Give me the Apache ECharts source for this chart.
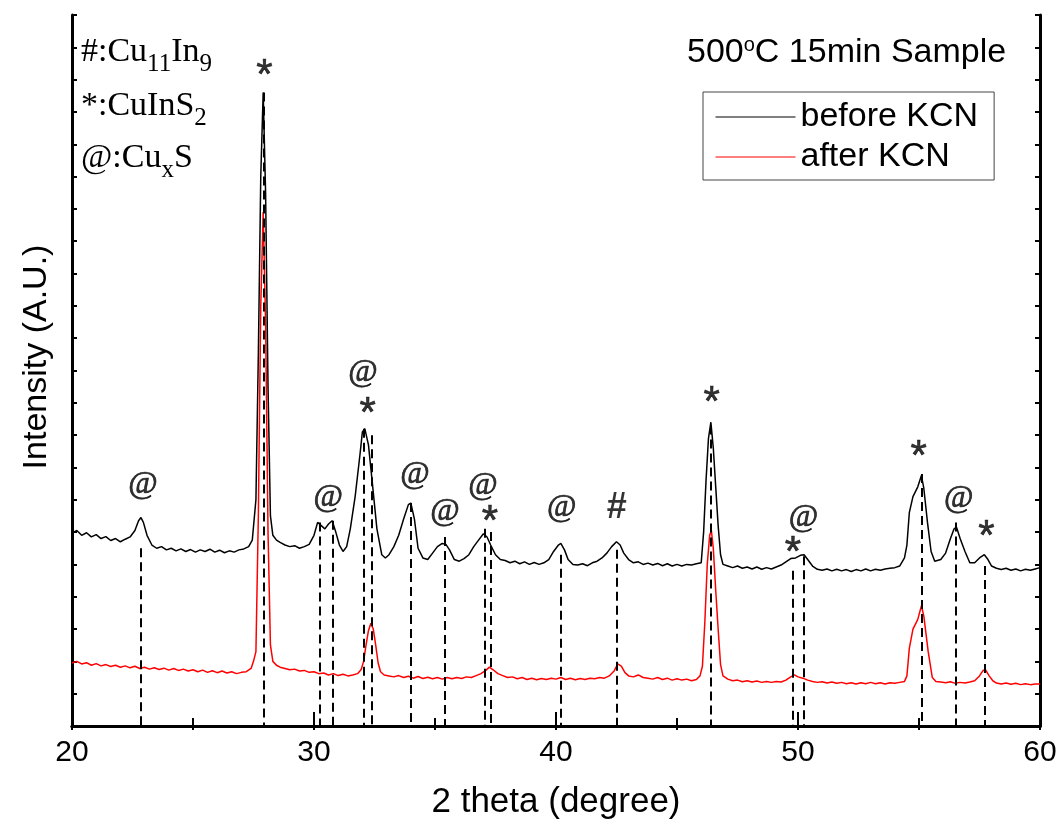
<!DOCTYPE html>
<html>
<head>
<meta charset="utf-8">
<script src="https://cdn.jsdelivr.net/npm/echarts@6/dist/echarts.min.js"></script>
<style>
html,body{margin:0;padding:0;background:#fff;}
#chart{width:1060px;height:827px;}
</style>
</head>
<body>
<div id="chart"></div>
<script>
// ---------- data (2 theta in degrees, intensity in arbitrary units) ----------
const beforeKCN = [
[20.0,5.97],[20.2,6.05],[20.4,5.90],[20.6,5.98],[20.8,5.85],[21.0,5.92],[21.2,5.80],[21.4,5.86],[21.6,5.74],[21.8,5.80],
[22.0,5.70],[22.2,5.78],[22.4,5.85],[22.6,6.05],[22.75,6.35],[22.85,6.45],[22.95,6.30],[23.1,5.90],[23.3,5.60],[23.5,5.50],
[23.7,5.55],[23.9,5.45],[24.1,5.50],[24.3,5.42],[24.5,5.48],[24.7,5.40],[24.9,5.46],[25.1,5.38],[25.3,5.45],[25.5,5.40],
[25.7,5.47],[25.9,5.38],[26.1,5.44],[26.3,5.36],[26.5,5.42],[26.7,5.38],[26.9,5.45],[27.1,5.48],[27.3,5.55],[27.45,5.75],
[27.6,7.0],[27.7,11.5],[27.8,17.0],[27.9,19.6],[28.0,16.5],[28.1,10.5],[28.2,6.5],[28.3,5.9],[28.45,5.75],[28.6,5.68],
[28.8,5.60],[29.0,5.55],[29.2,5.58],[29.4,5.50],[29.6,5.55],[29.8,5.62],[30.0,5.90],[30.15,6.30],[30.3,6.20],[30.45,6.10],
[30.6,6.25],[30.75,6.35],[30.9,6.00],[31.05,5.60],[31.2,5.40],[31.35,5.55],[31.5,6.10],[31.7,7.10],[31.9,8.40],[32.0,9.10],
[32.1,9.20],[32.25,8.70],[32.4,7.60],[32.6,6.10],[32.8,5.30],[32.95,5.20],[33.1,5.30],[33.3,5.55],[33.5,5.90],[33.7,6.40],
[33.9,6.85],[34.0,6.90],[34.15,6.40],[34.3,5.50],[34.5,5.20],[34.7,5.15],[34.9,5.35],[35.1,5.55],[35.3,5.65],[35.45,5.62],
[35.6,5.45],[35.8,5.15],[36.0,5.10],[36.2,5.18],[36.4,5.30],[36.6,5.55],[36.8,5.75],[37.0,5.95],[37.15,5.85],[37.3,5.60],
[37.5,5.30],[37.7,5.15],[37.9,5.12],[38.1,5.05],[38.3,5.10],[38.5,5.02],[38.7,5.08],[38.9,5.00],[39.1,5.06],[39.3,5.00],
[39.5,5.05],[39.7,5.15],[39.9,5.40],[40.1,5.60],[40.2,5.65],[40.35,5.45],[40.5,5.15],[40.7,5.00],[40.9,4.98],[41.1,5.02],
[41.3,4.96],[41.5,5.05],[41.7,5.10],[41.9,5.20],[42.1,5.35],[42.3,5.55],[42.5,5.70],[42.65,5.60],[42.8,5.35],[43.0,5.15],
[43.2,5.05],[43.4,5.08],[43.6,5.00],[43.8,5.04],[44.0,4.98],[44.2,5.03],[44.4,4.96],[44.6,5.02],[44.8,4.95],[45.0,5.00],
[45.2,4.95],[45.4,5.00],[45.6,4.98],[45.8,5.02],[46.0,5.05],[46.1,6.0],[46.2,7.6],[46.3,8.9],[46.4,9.4],[46.5,8.6],
[46.6,7.4],[46.7,6.2],[46.8,5.3],[46.9,5.00],[47.1,4.95],[47.3,4.90],[47.5,4.95],[47.7,4.88],[47.9,4.92],[48.1,4.86],
[48.3,4.92],[48.5,4.85],[48.7,4.90],[48.9,4.86],[49.1,4.92],[49.3,4.98],[49.5,5.08],[49.7,5.18],[49.9,5.20],[50.1,5.28],
[50.25,5.30],[50.4,5.15],[50.6,4.95],[50.8,4.85],[51.0,4.82],[51.2,4.86],[51.4,4.80],[51.6,4.85],[51.8,4.80],[52.0,4.84],
[52.2,4.78],[52.4,4.84],[52.6,4.80],[52.8,4.86],[53.0,4.80],[53.2,4.85],[53.4,4.82],[53.6,4.86],[53.8,4.88],[54.0,4.90],
[54.2,4.95],[54.4,5.2],[54.5,5.6],[54.6,6.6],[54.75,7.1],[54.95,7.4],[55.1,7.75],[55.2,7.35],[55.35,6.3],[55.5,5.4],
[55.65,5.1],[55.9,5.15],[56.1,5.35],[56.3,5.80],[56.45,6.10],[56.55,6.15],[56.7,5.80],[56.9,5.40],[57.1,5.05],[57.3,5.05],
[57.5,5.20],[57.7,5.30],[57.85,5.15],[58.0,4.95],[58.2,4.88],[58.4,4.84],[58.6,4.88],[58.8,4.82],[59.0,4.86],[59.2,4.80],
[59.4,4.85],[59.6,4.82],[59.8,4.86],[60.0,4.90]
];
const afterKCN = [
[20.0,1.95],[20.2,2.00],[20.4,1.92],[20.6,1.96],[20.8,1.88],[21.0,1.93],[21.2,1.86],[21.4,1.90],[21.6,1.84],[21.8,1.88],
[22.0,1.82],[22.2,1.86],[22.4,1.80],[22.6,1.85],[22.8,1.78],[23.0,1.82],[23.2,1.76],[23.4,1.80],[23.6,1.75],[23.8,1.79],
[24.0,1.73],[24.2,1.78],[24.4,1.72],[24.6,1.76],[24.8,1.70],[25.0,1.74],[25.2,1.68],[25.4,1.73],[25.6,1.66],[25.8,1.71],
[26.0,1.65],[26.2,1.70],[26.4,1.64],[26.6,1.68],[26.8,1.62],[27.0,1.66],[27.2,1.68],[27.4,1.78],[27.5,2.0],[27.6,2.3],
[27.7,6.5],[27.8,13.0],[27.9,15.9],[28.0,12.5],[28.1,6.0],[28.2,2.5],[28.3,2.0],[28.45,1.88],[28.6,1.82],[28.8,1.78],
[29.0,1.74],[29.2,1.76],[29.4,1.70],[29.6,1.72],[29.8,1.66],[30.0,1.68],[30.2,1.62],[30.4,1.64],[30.6,1.58],[30.8,1.62],
[31.0,1.56],[31.2,1.60],[31.4,1.55],[31.6,1.58],[31.8,1.62],[31.95,1.75],[32.05,2.0],[32.15,2.5],[32.25,2.95],[32.35,3.18],
[32.45,3.0],[32.55,2.5],[32.65,1.95],[32.75,1.68],[32.9,1.58],[33.1,1.55],[33.3,1.52],[33.5,1.56],[33.7,1.50],[33.9,1.54],
[34.1,1.48],[34.3,1.53],[34.5,1.47],[34.7,1.51],[34.9,1.46],[35.1,1.50],[35.3,1.45],[35.5,1.50],[35.7,1.46],[35.9,1.50],
[36.1,1.47],[36.3,1.52],[36.5,1.50],[36.7,1.56],[36.9,1.62],[37.1,1.72],[37.25,1.82],[37.4,1.74],[37.6,1.62],[37.8,1.56],
[38.0,1.50],[38.2,1.52],[38.4,1.46],[38.6,1.50],[38.8,1.44],[39.0,1.48],[39.2,1.43],[39.4,1.47],[39.6,1.44],[39.8,1.48],
[40.0,1.45],[40.2,1.50],[40.4,1.44],[40.6,1.48],[40.8,1.43],[41.0,1.47],[41.2,1.44],[41.4,1.48],[41.6,1.46],[41.8,1.50],
[42.0,1.48],[42.2,1.55],[42.4,1.70],[42.55,1.92],[42.7,1.85],[42.85,1.65],[43.0,1.55],[43.2,1.52],[43.4,1.58],[43.6,1.50],
[43.8,1.48],[44.0,1.45],[44.2,1.50],[44.4,1.44],[44.6,1.48],[44.8,1.42],[45.0,1.46],[45.2,1.42],[45.4,1.45],[45.6,1.40],
[45.8,1.44],[45.95,1.55],[46.05,1.85],[46.15,3.2],[46.25,5.0],[46.35,5.9],[46.42,6.05],[46.5,5.5],[46.6,4.2],[46.7,3.0],
[46.8,1.9],[46.9,1.55],[47.1,1.45],[47.3,1.40],[47.5,1.42],[47.7,1.37],[47.9,1.40],[48.1,1.36],[48.3,1.39],[48.5,1.35],
[48.7,1.38],[48.9,1.35],[49.1,1.38],[49.3,1.36],[49.5,1.42],[49.7,1.52],[49.85,1.58],[50.0,1.52],[50.2,1.48],[50.4,1.42],
[50.6,1.38],[50.8,1.35],[51.0,1.37],[51.2,1.33],[51.4,1.36],[51.6,1.32],[51.8,1.35],[52.0,1.31],[52.2,1.34],[52.4,1.30],
[52.6,1.34],[52.8,1.31],[53.0,1.35],[53.2,1.31],[53.4,1.34],[53.6,1.30],[53.8,1.34],[54.0,1.32],[54.2,1.35],[54.4,1.38],
[54.5,1.55],[54.6,2.4],[54.75,3.0],[54.95,3.3],[55.1,3.72],[55.2,3.4],[55.38,2.3],[55.55,1.5],[55.7,1.38],[55.9,1.36],
[56.1,1.34],[56.3,1.37],[56.5,1.32],[56.7,1.35],[56.9,1.33],[57.1,1.36],[57.3,1.40],[57.5,1.55],[57.65,1.72],[57.75,1.74],
[57.9,1.55],[58.05,1.40],[58.2,1.33],[58.4,1.30],[58.6,1.33],[58.8,1.29],[59.0,1.32],[59.2,1.28],[59.4,1.31],[59.6,1.28],
[59.8,1.30],[60.0,1.30]
];
// dashed reference lines: peak position and the level where each dashed line starts
const dashX   = [22.84, 27.92, 30.24, 30.76, 32.07, 32.38, 33.99, 35.42, 37.06, 37.29, 40.19, 42.53, 46.40, 49.78, 50.22, 55.11, 56.53, 57.70];
const dashTop = [5.5,   19.6,  6.3,   6.35,  9.2,   9.0,   6.9,   5.85,  6.1,   6.0,   5.3,   5.45,  9.3,   4.8,   5.25,  7.8,   6.3,   4.95];
// phase markers above the peaks
const markX    = [22.93, 27.95, 30.59, 32.02, 32.22, 34.17, 35.41, 36.98, 37.27, 40.24, 42.51, 46.43, 49.79, 50.23, 54.99, 56.64, 57.79];
const markY    = [7.39,  20.41, 6.99,  10.84, 9.96,  7.70,  6.53,  7.36,  6.62,  6.68,  6.75,  10.30, 5.66,  6.37,  8.63,  6.93,  6.13];
const markText = ['@',   '*',   '@',   '@',   '*',   '@',   '@',   '@',   '*',   '@',   '#',   '*',   '*',   '@',   '*',   '@',   '*'];
const xTicks = [20, 30, 40, 50, 60];

// ---------- chart ----------
const SANS = "'Liberation Sans', Arial, sans-serif";
const SERIF = "'Liberation Serif', 'Times New Roman', serif";
const markStyles = {
  '@': {fontFamily: SERIF, fontSize: 32, fontWeight: 'normal', offset: [0, -3], border: 0.7},
  '*': {fontFamily: SANS, fontSize: 42, fontWeight: 'normal', offset: [0, 10], border: 0.6},
  '#': {fontFamily: SANS, fontSize: 36, fontWeight: 'bold', offset: [0, 0], border: 0}
};
const markData = markX.map((x, i) => {
  const st = markStyles[markText[i]];
  return {
    value: [x, markY[i]],
    label: {show: true, position: 'inside', formatter: markText[i], color: '#000',
            fontFamily: st.fontFamily, fontSize: st.fontSize, fontWeight: st.fontWeight,
            textBorderColor: '#000', textBorderWidth: st.border,
            offset: st.offset, align: 'center', verticalAlign: 'middle'}
  };
});
const dashData = dashX.map((x, i) => [{coord: [x, dashTop[i]]}, {coord: [x, 0]}]);

const chart = echarts.init(document.getElementById('chart'), null, {renderer: 'canvas'});
const mainRich = {
  m: {fontFamily: SERIF, fontSize: 34, lineHeight: 40, color: '#000'},
  s: {fontFamily: SERIF, fontSize: 25, lineHeight: 40, color: '#000', padding: [24, 0, 0, 0]}
};
chart.setOption({
  animation: false,
  backgroundColor: '#fff',
  grid: {left: 72, right: 20, top: 15, bottom: 101},
  xAxis: [{
    type: 'value', min: xTicks[0], max: xTicks[xTicks.length - 1], interval: 10,
    name: '2 theta (degree)', nameLocation: 'middle', nameGap: 59,
    nameTextStyle: {fontFamily: SANS, fontSize: 35, color: '#000'},
    axisLine: {show: true, lineStyle: {color: '#000', width: 3}},
    axisTick: {show: true, inside: true, length: 14, lineStyle: {color: '#000', width: 2}},
    minorTick: {show: true, splitNumber: 2, length: 8, lineStyle: {color: '#000', width: 2}},
    axisLabel: {fontFamily: SANS, fontSize: 30, color: '#000', margin: 12},
    splitLine: {show: false}
  }, {
    type: 'value', position: 'top', min: 20, max: 60, interval: 5,
    axisLine: {show: true, lineStyle: {color: '#000', width: 3}},
    axisTick: {show: true, inside: true, length: 4, lineStyle: {color: '#000', width: 2}},
    axisLabel: {show: false}, splitLine: {show: false}
  }],
  yAxis: [{
    type: 'value', min: 0, max: 22, interval: 1,
    axisLine: {show: true, lineStyle: {color: '#000', width: 3}},
    axisTick: {show: true, inside: true, length: 5, lineStyle: {color: '#000', width: 2}},
    axisLabel: {show: false}, splitLine: {show: false}
  }, {
    type: 'value', position: 'right', min: 0, max: 22, interval: 1,
    axisLine: {show: true, lineStyle: {color: '#000', width: 3}},
    axisTick: {show: true, inside: true, length: 5, lineStyle: {color: '#000', width: 2}},
    axisLabel: {show: false}, splitLine: {show: false}
  }],
  legend: {
    data: ['before KCN', 'after KCN'], orient: 'vertical',
    left: 703, top: 92, padding: [8, 16, 6, 12], itemGap: 6,
    itemWidth: 80, itemHeight: 14,
    itemStyle: {opacity: 0},
    lineStyle: {width: 1},
    borderColor: '#444', borderWidth: 1, borderRadius: 0,
    textStyle: {fontFamily: SANS, fontSize: 34, color: '#000'}
  },
  series: [{
    name: 'after KCN', type: 'line', data: afterKCN, symbol: 'none', z: 2,
    lineStyle: {color: '#ff0000', width: 1.5}, itemStyle: {color: '#ff0000'}
  }, {
    name: 'before KCN', type: 'line', data: beforeKCN, symbol: 'none', z: 3,
    lineStyle: {color: '#000', width: 1.5}, itemStyle: {color: '#000'}
  }, {
    name: 'peaks', type: 'line', data: [], z: 4,
    markLine: {silent: true, symbol: ['none', 'none'], label: {show: false},
      lineStyle: {color: '#000', width: 2, type: [9, 5]}, data: dashData}
  }, {
    name: 'markers', type: 'scatter', data: markData, symbolSize: 1, z: 5,
    itemStyle: {color: 'rgba(0,0,0,0)'}, silent: true
  }],
  graphic: [
    {type: 'text', x: 37, y: 357, rotation: Math.PI / 2,
     style: {text: 'Intensity (A.U.)', fontFamily: SANS, fontSize: 34, fill: '#000', align: 'center', verticalAlign: 'middle'}},
    {type: 'text', x: 687, y: 53,
     style: {text: '{t|500}{o|o}{t|C 15min Sample}', align: 'left', verticalAlign: 'middle',
       rich: {t: {fontFamily: SANS, fontSize: 34, lineHeight: 40, color: '#000'},
              o: {fontFamily: SANS, fontSize: 20, lineHeight: 40, color: '#000', padding: [0, 0, 16, 0]}}}},
    {type: 'text', x: 81, y: 52,
     style: {text: '{m|#:Cu}{s|11}{m|In}{s|9}', align: 'left', verticalAlign: 'middle', rich: mainRich}},
    {type: 'text', x: 81, y: 106,
     style: {text: '{m|*:CuInS}{s|2}', align: 'left', verticalAlign: 'middle', rich: mainRich}},
    {type: 'text', x: 81, y: 158,
     style: {text: '{m|@:Cu}{s|x}{m|S}', align: 'left', verticalAlign: 'middle', rich: mainRich}}
  ]
});
</script>
</body>
</html>
